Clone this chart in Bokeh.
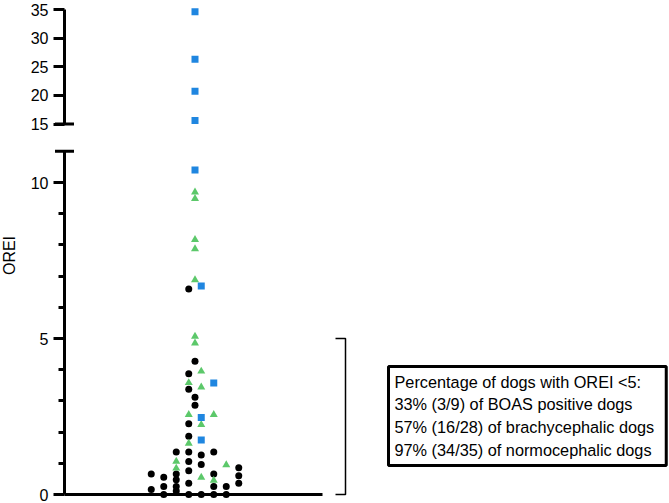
import math
from bokeh.plotting import figure
from bokeh.layouts import column
from bokeh.models import Range1d, FixedTicker, Label, Arrow
from bokeh.embed import file_html
from bokeh.resources import INLINE

# ---------------- data ----------------
# column offset of each point in the swarm (units of one marker step) and OREI value
normo_col = [-3.5, -3.5,
             -2.5, -2.5, -2.5,
             -1.5, -1.5, -1.5, -1.5, -1.5,
             -0.5, -0.5, -0.5, -0.5, -0.5, -0.5, -0.5, -0.5, -0.5, -0.5,
             0, 0, 0,
             0.5, 0.5, 0.5,
             1.5, 1.5, 1.5, 1.5,
             2.5, 2.5,
             3.5, 3.5, 3.5]
normo_orei = [0.66, 0.16,
              0.55, 0.26, 0.0,
              1.36, 0.66, 0.47, 0.26, 0.11,
              6.59, 3.87, 3.37, 2.27, 1.87, 1.36, 1.06, 0.76, 0.36, 0.0,
              4.27, 3.12, 2.86,
              1.27, 0.96, 0.0,
              1.36, 0.66, 0.26, 0.0,
              0.26, 0.0,
              0.86, 0.60, 0.36]

brachy_col = [0, 0, 0, 0, 0, 0, 0,
              -0.5, -0.5, -0.5,
              0.5, 0.5, 0.5, 0.5,
              1.5, 1.5,
              -1.5, -1.5,
              2.5]
brachy_orei = [9.69, 9.48, 8.17, 7.87, 6.88, 5.07, 4.85,
               3.58, 2.56, 1.64,
               3.95, 3.44, 2.24, 0.55,
               2.56, 0.45,
               1.06, 0.84,
               0.95]

boas_col = [0, 0, 0, 0, 0, 0.5, 0.5, 0.5, 1.5]
boas_orei = [34.6, 26.3, 20.7, 15.6, 10.4, 6.68, 2.47, 1.75, 3.57]

lower_ticks = [0, 5, 10]
lower_minor = [1, 2, 3, 4, 6, 7, 8, 9]
upper_ticks = [15, 20, 25, 30, 35]
lower_bounds = (0, 11)
upper_bounds = (15, 35)
threshold = 5
y_title = "OREI"
legend_lines = ["Percentage of dogs with OREI <5:",
                "33% (3/9) of BOAS positive dogs",
                "57% (16/28) of brachycephalic dogs",
                "97% (34/35) of normocephalic dogs"]

# ---------------- layout constants ----------------
W = 669
FONT = "Liberation Sans"
BLUE = "#1f86e0"
GREEN = "#5cc86a"
STEP = 12.5                       # px per x unit
CX = 194.5                        # pixel of swarm centre
x_lo = -CX / STEP                 # frame spans the whole width
x_hi = (W - CX) / STEP
x_axis = (64 - CX) / STEP         # where the y axis line sits
x_axis_hi = (322 - CX) / STEP
cap = 9.5 / STEP

TOP_H, BOT_H = 137, 366
PPU_T = 5.725                     # px per OREI unit, upper segment
PPU_B = 31.2                      # px per OREI unit, lower segment
top_end = 35 + 9 / PPU_T
top_start = top_end - TOP_H / PPU_T
bot_start = -(503 - 494) / PPU_B
bot_end = bot_start + BOT_H / PPU_B


def split(cols, vals, lo, hi):
    xs = [c for c, v in zip(cols, vals) if lo <= v <= hi]
    ys = [v for v in vals if lo <= v <= hi]
    return xs, ys


def style_yaxis(ax, ticks, minor, bounds):
    ax.fixed_location = x_axis
    ax.ticker = FixedTicker(ticks=ticks, minor_ticks=minor)
    ax.bounds = bounds
    ax.axis_line_width = 3
    ax.axis_line_color = "black"
    ax.major_tick_line_width = 3
    ax.minor_tick_line_width = 3
    ax.major_tick_line_color = "black"
    ax.minor_tick_line_color = "black"
    ax.major_tick_out = 11
    ax.major_tick_in = 0
    ax.minor_tick_out = 6
    ax.minor_tick_in = 0
    ax.major_label_standoff = 5
    ax.major_label_text_font = FONT
    ax.major_label_text_font_size = "16px"
    ax.major_label_text_color = "black"


def base_fig(height, y_range, x_axis_on):
    p = figure(width=W, height=height, output_backend="svg", toolbar_location=None,
               x_range=Range1d(x_lo, x_hi), y_range=y_range,
               x_axis_type="linear" if x_axis_on else None,
               min_border_left=0, min_border_right=0,
               min_border_top=0, min_border_bottom=0)
    p.outline_line_color = None
    p.xgrid.visible = False
    p.ygrid.visible = False
    return p


def add_points(p, lo, hi):
    x, y = split(normo_col, normo_orei, lo, hi)
    p.scatter(x, y, marker="circle", size=7, fill_color="black", line_color=None)
    x, y = split(brachy_col, brachy_orei, lo, hi)
    p.scatter(x, y, marker="triangle", size=8, fill_color=GREEN, line_color=None)
    x, y = split(boas_col, boas_orei, lo, hi)
    p.scatter(x, y, marker="square", size=7, fill_color=BLUE, line_color=None)


def add_cap(p, yv):
    p.add_layout(Arrow(end=None, x_start=x_axis - cap, x_end=x_axis + cap,
                       y_start=yv, y_end=yv, line_width=3, line_color="black"))


# ---------------- upper segment ----------------
top = base_fig(TOP_H, Range1d(top_start, top_end), False)
style_yaxis(top.yaxis[0], upper_ticks, [], upper_bounds)
add_points(top, upper_bounds[0] - 1, upper_bounds[1] + 1)
add_cap(top, upper_bounds[0])

# ---------------- lower segment ----------------
bot = base_fig(BOT_H, Range1d(bot_start, bot_end), True)
style_yaxis(bot.yaxis[0], lower_ticks, lower_minor, lower_bounds)
xa = bot.xaxis[0]
xa.fixed_location = 0
xa.bounds = (x_axis, x_axis_hi)
xa.ticker = FixedTicker(ticks=[], minor_ticks=[])
xa.major_tick_out = 0
xa.minor_tick_out = 0
xa.major_label_text_font_size = "0px"
xa.axis_line_width = 3
xa.axis_line_color = "black"
add_points(bot, lower_bounds[0] - 1, lower_bounds[1])
add_cap(bot, lower_bounds[1])

# bracket marking OREI < threshold
bx1 = (345 - CX) / STEP
bx0 = (335 - CX) / STEP
bot.line([bx0, bx1, bx1, bx0], [threshold, threshold, 0, 0],
         line_width=1.5, line_color="black")

# text box
bot.add_layout(Label(x=(388 - CX) / STEP, y=(494 - 366) / PPU_B,
                     text="\n".join(legend_lines), anchor="top_left",
                     text_align="left", text_baseline="top",
                     text_font=FONT, text_font_size="16.3px", text_color="black",
                     text_line_height=1.26,
                     border_line_color="black", border_line_width=3,
                     background_fill_color="white", padding=(6, 12, 6, 7)))

# y axis title, centred on the whole broken axis
bot.add_layout(Label(x=(9 - CX) / STEP, y=(494 - 255) / PPU_B, text=y_title,
                     angle=math.pi / 2, text_align="center", text_baseline="middle",
                     text_font=FONT, text_font_size="16px", text_color="black"))

layout = column(top, bot, spacing=0)

with open("out.html", "w") as f:
    f.write(file_html(layout, INLINE))
